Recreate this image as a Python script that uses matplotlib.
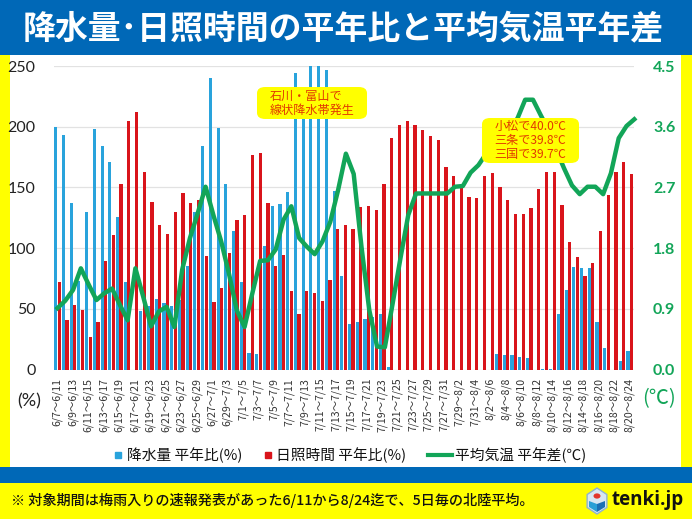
# Hokuriku rainfall, sunshine and temperature anomaly
import datetime as dt
import matplotlib
matplotlib.use("Agg")
import matplotlib.pyplot as plt
from matplotlib.patches import Rectangle, FancyBboxPatch, Polygon, Circle
from matplotlib.lines import Line2D
import numpy as np

plt.rcParams['font.family'] = ['Noto Sans CJK JP', 'DejaVu Sans']

## Data
rain = [200, 193, 137, 73, 130, 198, 184, 171, 126, 72, 0, 48, 52, 58, 55, 52, 57, 85, 130, 184,
        240, 199, 153, 114, 72, 13.5, 12.7, 102, 135, 136, 146, 244, 225, 290, 285, 247, 147, 77, 37.5, 39,
        41.6, 43, 46, 2, 0, 0, 0, 0, 0, 0, 0, 0, 0, 0, 0, 0, 0, 12.5, 12, 12,
        10.5, 9.5, 0, 0.5, 0.5, 45.7, 65.5, 84.7, 84, 84, 39, 18, 0, 6.7, 15.5]
sun = [72, 41, 53, 49, 27, 39, 89, 111, 153, 205, 212, 163, 138, 119, 111.5, 129.5, 145, 137, 139.5, 93.5,
       56, 67, 96, 123, 127, 177, 178.6, 137, 85.5, 94, 64.6, 46, 64.6, 63, 56.4, 74, 115.5, 119, 115.5, 133.7,
       134.7, 131, 152.5, 190.4, 201.4, 205, 201.4, 197, 192, 189, 166.5, 159, 152, 142, 141.5, 159, 161.6, 150.6, 139.6, 127.8,
       128.3, 133.3, 148.7, 162.7, 163, 135.5, 105, 92.4, 77.3, 87.5, 114, 143.5, 163, 171, 161]
temp = [0.91, 1.02, 1.18, 1.50, 1.26, 1.03, 1.13, 1.20, 0.96, 0.73, 1.50, 1.08, 0.64, 0.86, 0.93, 0.63, 1.48, 1.95, 2.32, 2.71,
        2.29, 1.90, 1.42, 0.88, 0.63, 1.13, 1.61, 1.62, 1.78, 2.22, 2.42, 1.95, 1.82, 1.71, 1.90, 2.19, 2.66, 3.20, 2.90, 1.82,
        0.88, 0.34, 0.33, 0.98, 1.65, 2.29, 2.61, 2.61, 2.61, 2.61, 2.61, 2.71, 2.72, 2.92, 3.03, 3.20, 3.35, 3.50, 3.60, 3.72,
        4.00, 4.00, 3.77, 3.55, 3.25, 2.98, 2.73, 2.60, 2.71, 2.71, 2.60, 2.91, 3.43, 3.61, 3.71]

start = dt.date(2023, 6, 7)
labels = []
for k in range(len(rain)):
    a = start + dt.timedelta(days=k)
    b = a + dt.timedelta(days=4)
    labels.append(f"{a.month}/{a.day}～{b.month}/{b.day}")

left_ticks = [0, 50, 100, 150, 200, 250]
right_ticks = [0.0, 0.9, 1.8, 2.7, 3.6, 4.5]

BLUE = "#29a3dc"
RED = "#d9141b"
GREEN = "#12a558"
BAND = "#0068b7"
YELLOW = "#ffff00"
W, H = 692, 519

def px(x, y, w, h):
    # pixel box (top-left origin) to figure fractions
    return (x/W, 1 - (y+h)/H, w/W, h/H)

def band(x, y, w, h, color):
    fx, fy, fw, fh = px(x, y, w, h)
    fig.patches.append(Rectangle((fx, fy), fw, fh, transform=fig.transFigure, fc=color, ec="none", zorder=-5))

## Figure
fig = plt.figure(figsize=(W/100, H/100), dpi=100, facecolor=YELLOW)
band(10, 55, 671, 412, "white")
band(0, 0, W, 55, BAND)
band(0, 467, W, 16, BAND)

ax = fig.add_axes(px(53.6, 66, 580, 303.5))
ax.patch.set_alpha(0)
x = np.arange(len(rain))
ax.bar(x - 0.23, rain, width=0.40, color=BLUE, zorder=2)
ax.bar(x + 0.23, sun, width=0.42, color=RED, zorder=3)
ax.set_xlim(-0.5, len(rain) - 0.5)
ax.set_ylim(0, 250)
ax.set_yticks(left_ticks)
ax.set_xticks(x[::2])
ax.set_xticklabels(labels[::2], rotation=90, fontsize=7.6, color="#333333")
ax.tick_params(axis='both', length=0)
ax.tick_params(axis='x', pad=6)
ax.tick_params(axis='y', pad=13, labelsize=11.5, labelcolor="#222222")
for t in ax.get_yticklabels():
    t.set_fontfamily('Lato')
ax.grid(axis='y', color="#e2e2e2", lw=0.9, zorder=0)
ax.set_axisbelow(True)
for s in ax.spines.values():
    s.set_visible(False)

ax2 = ax.twinx()
ax2.plot(x*1.008, temp, color=GREEN, lw=3.2, solid_joinstyle='round', zorder=5, clip_on=False)
ax2.set_ylim(0, 4.5)
ax2.set_yticks(right_ticks)
ax2.set_yticklabels([f"{v:.1f}" for v in right_ticks], fontfamily='Lato', fontweight='bold', fontsize=11.5, color=GREEN)
ax2.tick_params(axis='y', length=0, pad=14)
for s in ax2.spines.values():
    s.set_visible(False)

## Callouts
def callout(bx, by, bw, bh, text, align):
    xf, yf, wf, hf = px(bx, by, bw, bh)
    box = FancyBboxPatch((xf, yf), wf, hf, boxstyle="round,pad=0,rounding_size=0.012",
                         transform=fig.transFigure, fc=YELLOW, ec="none", zorder=6)
    ax2.add_artist(box)
    box.set_clip_on(False)
    ax2.text(xf + wf/2, yf + hf/2, text, transform=fig.transFigure, ha='center', va='center', ma=align,
             fontsize=8.7, color="#e23a00", linespacing=1.12, zorder=7)

callout(257, 87, 110, 32, "石川・富山で\n線状降水帯発生", 'left')
callout(482, 118, 97, 45, "小松で40.0℃\n三条で39.8℃\n三国で39.7℃", 'center')

## Text around the chart
fig.text(343.5/W, 1 - 29/H, "降水量･日照時間の平年比と平均気温平年差", color="white", fontsize=23.7,
         fontweight='bold', ha='center', va='center')
fig.text(29/W, 1 - 401/H, "(%)", fontsize=13, color="#222222", ha='center', va='center', fontfamily='Lato')
fig.text(659/W, 1 - 399/H, "(℃)", fontsize=14.5, color=GREEN, ha='center', va='center')

bar_handles = [Line2D([], [], marker='s', ls='none', color=BLUE, ms=4.8),
               Line2D([], [], marker='s', ls='none', color=RED, ms=4.8)]
line_handle = [Line2D([], [], color=GREEN, lw=3)]
fig.legend(bar_handles, ["降水量 平年比(%)", "日照時間 平年比(%)"],
           loc='center left', bbox_to_anchor=(114/W, 1 - 455/H), ncol=2, frameon=False, fontsize=10.6,
           handlelength=0.6, handletextpad=0.3, columnspacing=1.4, borderpad=0, borderaxespad=0, labelcolor="#111111")
fig.legend(line_handle, ["平均気温 平年差(℃)"],
           loc='center left', bbox_to_anchor=(428/W, 1 - 455/H), frameon=False, fontsize=10.6,
           handlelength=1.63, handletextpad=0.2, borderpad=0, borderaxespad=0, labelcolor="#111111")

fig.text(11/W, 1 - 500/H, "※ 対象期間は梅雨入りの速報発表があった6/11から8/24迄で、5日毎の北陸平均。",
         fontsize=10.2, fontweight='medium', color="#111111", ha='left', va='center')

## tenki.jp mark
cx, cy = 597, 501
hexagon = [(cx + 12*np.sin(a)*0.95, (H - cy) + 13*np.cos(a)) for a in np.arange(6)*np.pi/3]
fig.patches.append(Polygon([(p/W, q/H) for p, q in hexagon], transform=fig.transFigure, fc="#d8e6f2", ec="#8fb3d1", lw=1))
fig.patches.append(Polygon([((cx-8)/W, (H-cy)/H), (cx/W, (H-cy-3)/H), (cx/W, (H-cy-11)/H), ((cx-8)/W, (H-cy-6)/H)],
                           transform=fig.transFigure, fc="#2a9fd6", ec="none"))
fig.patches.append(Polygon([((cx+8)/W, (H-cy)/H), (cx/W, (H-cy-3)/H), (cx/W, (H-cy-11)/H), ((cx+8)/W, (H-cy-6)/H)],
                           transform=fig.transFigure, fc="#1b6fb5", ec="none"))
fig.patches.append(Circle((cx/W, (H-cy+5)/H), 3.5/W, transform=fig.transFigure, fc="#e2352b", ec="none"))
fig.text(612/W, 1 - 500/H, "tenki.jp", fontsize=13.5, fontweight='bold', color="#111111", ha='left', va='center',
         fontfamily='Open Sans')

fig.savefig("out.png", dpi=100, facecolor=fig.get_facecolor())
